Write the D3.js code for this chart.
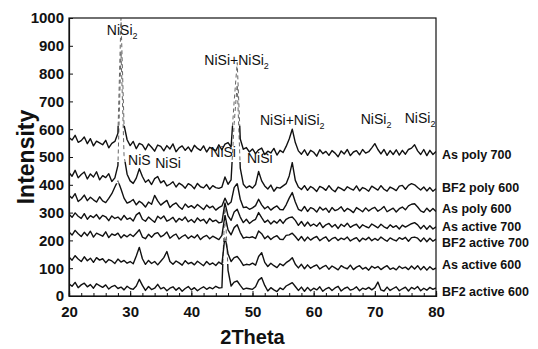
<!DOCTYPE html>
<html lang="en">
<head>
<meta charset="UTF-8">
<title>XRD patterns</title>
<script src="https://d3js.org/d3.v7.min.js"></script>
<style>
  body { margin: 0; background: #fff; }
  text { font-family: "Liberation Sans", Arial, sans-serif; }
</style>
</head>
<body>
<div id="chart"></div>
<script>
// 2Theta grid: 20 to 80 in 0.5 deg steps (121 points)
var thetaStart = 20, thetaStep = 0.5;

var asPoly700 = [570,561,578,553,559,572,548,566,540,557,
  551,544,560,533,549,556,585,1000,615,562,
  541,556,530,549,544,526,547,535,521,543,
  538,522,541,529,547,519,533,540,524,536,
  519,542,531,524,540,518,535,529,522,544,
  526,546,552,536,700,840,565,528,534,518,
  529,512,526,532,509,521,515,531,507,524,
  516,538,565,600,552,522,510,526,506,524,
  517,503,526,512,520,506,523,514,501,522,
  511,527,505,518,523,508,527,514,519,533,
  548,527,511,527,506,523,509,526,507,524,
  510,527,532,544,522,509,527,505,524,509,
  520];
var bf2Poly600 = [444,431,452,425,437,446,421,439,428,447,
  418,433,426,440,412,425,470,880,505,438,
  414,405,424,458,430,409,418,401,422,430,
  407,415,396,402,411,392,406,399,388,404,
  398,386,405,393,389,401,384,397,390,387,
  392,428,402,418,620,760,460,402,389,396,
  388,401,448,414,396,385,399,377,391,388,
  396,404,432,480,416,392,383,397,380,394,
  387,376,394,389,380,397,383,375,392,386,
  379,393,386,381,396,378,390,385,377,395,
  388,381,397,384,377,392,386,379,395,398,
  384,398,404,400,390,381,392,378,390,377,
  386];
var asPoly600 = [361,352,368,340,349,363,343,355,346,338,
  357,342,336,351,368,392,415,385,352,334,
  339,347,328,341,333,320,338,330,362,342,
  327,336,344,318,329,335,321,312,331,319,
  325,316,329,320,311,327,317,323,309,318,
  324,352,328,338,390,405,348,318,320,312,
  317,325,348,328,314,322,309,318,324,311,
  310,328,352,372,338,312,306,322,304,318,
  313,302,320,309,316,301,318,307,312,321,
  304,315,309,300,318,311,303,317,306,314,
  319,305,312,322,303,310,316,302,314,320,
  310,324,330,332,320,306,301,316,304,315,
  304];
var asActive700 = [294,283,299,287,279,296,276,289,282,293,
  277,290,285,271,288,279,284,273,290,276,
  281,270,292,300,276,269,284,274,265,287,
  278,288,269,275,283,266,279,272,284,267,
  275,264,281,270,276,261,279,268,273,263,
  266,335,288,272,302,312,284,264,276,261,
  270,276,300,282,265,273,259,270,262,275,
  261,276,282,284,272,254,268,251,266,252,
  259,251,264,246,256,261,248,257,243,258,
  250,262,247,254,258,244,256,250,245,259,
  252,245,258,249,243,256,247,253,241,255,
  248,254,260,264,256,242,254,240,253,241,
  249];
var bf2Active700 = [230,219,236,224,214,229,217,233,212,226,
  221,215,231,210,223,218,226,209,220,213,
  222,214,226,238,212,206,222,211,224,228,
  213,219,230,208,217,223,205,214,220,207,
  216,209,220,203,213,218,206,215,209,203,
  218,290,238,220,246,256,228,208,212,210,
  213,207,234,224,206,216,203,212,217,204,
  203,218,220,226,214,200,214,198,212,201,
  209,214,199,207,213,197,206,211,200,208,
  203,212,198,205,210,196,208,202,211,199,
  207,200,212,204,197,209,203,198,210,204,
  211,197,210,212,208,196,209,195,208,197,
  205];
var asActive600 = [140,129,145,133,124,141,127,136,121,138,
  129,134,120,131,126,117,133,122,128,118,
  124,116,144,175,134,114,128,117,124,112,
  125,138,160,124,114,126,119,111,127,116,
  121,112,125,117,109,124,113,119,110,122,
  114,215,152,124,138,142,128,110,114,112,
  118,111,142,156,121,106,118,109,102,116,
  109,120,127,138,114,101,114,98,112,100,
  107,112,97,105,110,96,108,101,94,109,
  102,98,111,95,104,109,97,103,93,107,
  100,106,95,103,109,96,101,94,107,99,
  104,95,108,97,109,94,106,93,105,95,
  101];
var bf2Active600 = [44,35,49,30,40,46,33,41,28,44,
  37,31,40,25,34,38,27,32,22,35,
  27,24,36,60,38,20,34,23,28,42,
  26,31,19,28,33,21,30,17,27,34,
  22,30,19,27,33,24,31,26,35,29,
  30,330,92,36,50,54,38,24,28,26,
  24,33,57,66,38,18,30,22,16,29,
  23,36,42,48,34,20,32,17,31,19,
  28,22,33,17,26,31,20,29,35,18,
  27,32,21,25,33,19,28,24,31,22,
  30,50,22,18,32,20,27,33,19,26,
  32,18,31,25,34,19,28,21,31,24,
  29];

var series = [asPoly700, bf2Poly600, asPoly600, asActive700, bf2Active700, asActive600, bf2Active600];
var seriesNames = ["As poly  700", "BF2 poly 600", "As poly 600", "As active 700",
  "BF2 active 700", "As active 600", "BF2 active 600"];
// intensity level where each right-hand label sits
var labelLevels = [508, 388, 312, 250, 190, 111, 14];

// peak annotations: [2theta, intensity, main text, subscript]
var peakNotes = [[28.7, 940, "NiSi", "2"], [47.4, 830, "NiSi+NiSi", "2"],
  [56.5, 615, "NiSi+NiSi", "2"], [70.2, 618, "NiSi", "2"], [77.4, 622, "NiSi", "2"],
  [31.5, 470, "NiS", ""], [36.2, 460, "NiSi", ""], [45.2, 500, "NiSi", ""], [51.2, 480, "NiSi", ""]];

var xTicks = [20, 30, 40, 50, 60, 70, 80];
var yTicks = [0, 100, 200, 300, 400, 500, 600, 700, 800, 900, 1000];

var w = 538, h = 349;
var m = {left: 69, right: 102, top: 18, bottom: 52};

var svg = d3.select("#chart").append("svg")
  .attr("width", w).attr("height", h);

var x = d3.scaleLinear().domain([20, 80]).range([m.left, w - m.right]);
var y = d3.scaleLinear().domain([0, 1000]).range([h - m.bottom - 1, m.top]);

// frame
svg.append("rect")
  .attr("x", x(20)).attr("y", y(1000))
  .attr("width", x(80) - x(20)).attr("height", y(0) - y(1000))
  .attr("fill", "none").attr("stroke", "#111").attr("stroke-width", 1.2);

var line = d3.line()
  .x(function(d, i) { return x(thetaStart + i * thetaStep); })
  .y(function(d) { return y(d); });

// the tall narrow peaks print faint and broken in the original, so each trace
// is drawn solid below a cut level and thin dashed above it
var defs = svg.append("defs");
series.forEach(function(s, i) {
  var cut = d3.median(s) + 85;
  defs.append("clipPath").attr("id", "lo" + i).append("rect")
    .attr("x", x(20)).attr("width", x(80) - x(20))
    .attr("y", y(cut)).attr("height", y(0) - y(cut) + 2);
  defs.append("clipPath").attr("id", "hi" + i).append("rect")
    .attr("x", x(20)).attr("width", x(80) - x(20))
    .attr("y", y(1000) - 2).attr("height", y(cut) - y(1000) + 2);
});

svg.selectAll("path.peak").data(series).enter().append("path")
  .attr("class", "peak")
  .attr("d", line)
  .attr("clip-path", function(d, i) { return "url(#hi" + i + ")"; })
  .attr("fill", "none")
  .attr("stroke", "#555")
  .attr("stroke-width", 0.9)
  .attr("stroke-dasharray", "4,3");

svg.selectAll("path.trace").data(series).enter().append("path")
  .attr("class", "trace")
  .attr("d", line)
  .attr("clip-path", function(d, i) { return "url(#lo" + i + ")"; })
  .attr("fill", "none")
  .attr("stroke", "#111")
  .attr("stroke-width", 1.4)
  .attr("stroke-linejoin", "round");

// axes
var xAxis = d3.axisBottom(x).tickValues(xTicks).tickSize(-5).tickPadding(10).tickFormat(d3.format("d"));
var xMinor = d3.axisBottom(x).tickValues(d3.range(20, 81, 2)).tickSize(-3).tickFormat("");
var yAxis = d3.axisLeft(y).tickValues(yTicks).tickSize(-4).tickPadding(4).tickFormat(d3.format("d"));

svg.append("g").attr("transform", "translate(0," + y(0) + ")").call(xMinor);
var gx = svg.append("g").attr("transform", "translate(0," + y(0) + ")").call(xAxis);
var gy = svg.append("g").attr("transform", "translate(" + x(20) + ",0)").call(yAxis);

svg.selectAll(".domain").attr("stroke", "#111").attr("stroke-width", 1.2);
svg.selectAll(".tick line").attr("stroke", "#111");
gx.selectAll("text").attr("font-size", "15px").attr("font-weight", "bold").attr("fill", "#111");
gy.selectAll("text").attr("font-size", "15px").attr("font-weight", "bold").attr("fill", "#111")
  .attr("dx", "-1");

// axis titles
svg.append("text")
  .attr("x", (x(20) + x(80)) / 2).attr("y", 344)
  .attr("text-anchor", "middle")
  .attr("font-size", "20px").attr("font-weight", "bold").attr("fill", "#111")
  .text("2Theta");

svg.append("text")
  .attr("transform", "translate(34," + 157 + ") rotate(-90)")
  .attr("text-anchor", "middle")
  .attr("font-size", "23px").attr("font-weight", "bold").attr("fill", "#111")
  .text("Intensity");

// series labels on the right
svg.selectAll("text.slabel").data(seriesNames).enter().append("text")
  .attr("class", "slabel")
  .attr("x", x(80) + 6)
  .attr("y", function(d, i) { return y(labelLevels[i]) + 4; })
  .attr("font-size", "12.5px").attr("font-weight", "bold").attr("fill", "#111")
  .text(function(d) { return d; });

// peak labels
var notes = svg.selectAll("text.note").data(peakNotes).enter().append("text")
  .attr("class", "note")
  .attr("x", function(d) { return x(d[0]); })
  .attr("y", function(d) { return y(d[1]); })
  .attr("text-anchor", "middle")
  .attr("font-size", "14px").attr("fill", "#111");
notes.append("tspan").text(function(d) { return d[2]; });
notes.append("tspan").attr("font-size", "9px").attr("dy", 4)
  .text(function(d) { return d[3]; });
</script>
</body>
</html>
